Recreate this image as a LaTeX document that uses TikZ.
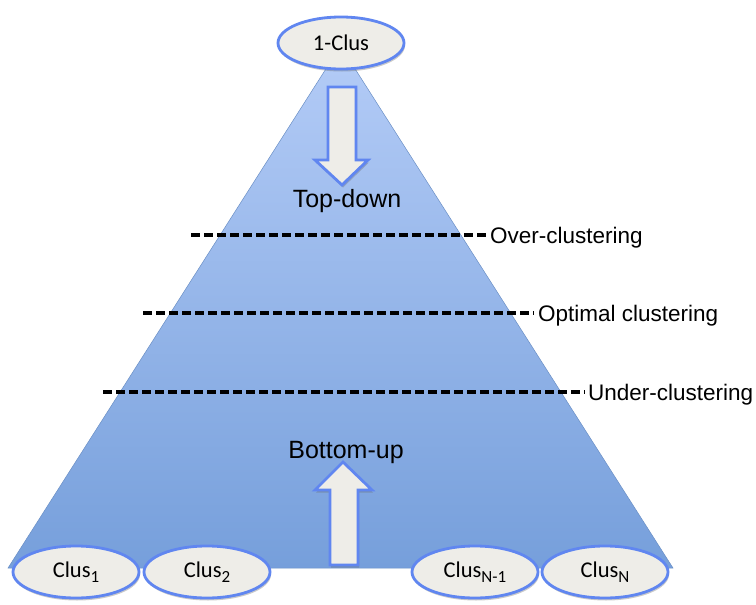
\documentclass[tikz,border=0pt]{standalone}
\usepackage{fontspec}
\setmainfont{Liberation Sans}
\newfontfamily\clusfam{Carlito}
\usetikzlibrary{shapes.geometric, shadows}

\definecolor{pyrtop}{RGB}{180,204,247}
\definecolor{pyrbot}{RGB}{118,159,219}
\definecolor{clusblue}{RGB}{96,134,240}
\definecolor{clusfill}{RGB}{238,237,232}

% subscript as the slide shows it: big and low
\newcommand{\clussub}[1]{\raisebox{-4.5pt}{\fontsize{17}{19}\selectfont #1}}

\tikzset{
    clus/.style={ellipse, draw=clusblue, line width=2.8pt, fill=clusfill,
        minimum width=126pt, minimum height=52pt, inner sep=0pt,
        font=\clusfam\fontsize{22.5}{26}\selectfont,
        drop shadow={shadow xshift=1pt, shadow yshift=-2.5pt, opacity=0.35, fill=black!60}},
    blockarrow/.style={draw=clusblue, line width=2.8pt, fill=clusfill, line join=miter,
        drop shadow={shadow xshift=1pt, shadow yshift=-2.5pt, opacity=0.35, fill=black!60}},
    cut/.style={draw=black, line width=3.2pt, dash pattern=on 9pt off 4pt},
    level/.style={anchor=base west, inner sep=0pt, font=\fontsize{22.5}{27}\selectfont},
    direction/.style={anchor=base, inner sep=0pt, font=\fontsize{25}{30}\selectfont}
}

\begin{document}
\begin{tikzpicture}[x=1pt, y=-1pt]
        \useasboundingbox (0,0) rectangle (756,605);
        % Pyramid
        \draw[top color=pyrtop, bottom color=pyrbot, draw=pyrbot!90!black, line width=0.5pt]
            (340.5,46) -- (673,568) -- (8,568) -- cycle;
        % Direction arrows
        \draw[blockarrow] (328,87) -- (356,87) -- (356,160) -- (368,160) -- (342,185)
            -- (315,160) -- (328,160) -- cycle;
        \draw[blockarrow] (330,565) -- (358,565) -- (358,490) -- (372,490) -- (343,462)
            -- (315,490) -- (330,490) -- cycle;
        \node[direction] (topdown) at (347,207) {Top-down};
        \node[direction] (bottomup) at (346,458) {Bottom-up};
        % Cut levels
        \node[level] (over) at (490,243) {Over-clustering};
        \node[level] (optimal) at (538,321) {Optimal clustering};
        \node[level] (under) at (588,400) {Under-clustering};
        \coordinate (overstart) at (191,235);
        \coordinate (optstart) at (143,313);
        \coordinate (understart) at (103,392);
        \draw[cut] (overstart) -- ([xshift=-4pt]overstart -| over.west);
        \draw[cut] (optstart) -- ([xshift=-4pt]optstart -| optimal.west);
        \draw[cut] (understart) -- ([xshift=-3pt]understart -| under.west);
        % Clusters
        \node[clus] (one) at (341,43) {1-Clus};
        \node[clus] (c1) at (76,572) {Clus\clussub{1}};
        \node[clus] (c2) at (207,572) {Clus\clussub{2}};
        \node[clus] (cn1) at (475,572) {Clus\clussub{N-1}};
        \node[clus] (cn) at (605,572) {Clus\clussub{N}};
    \end{tikzpicture}
\end{document}
